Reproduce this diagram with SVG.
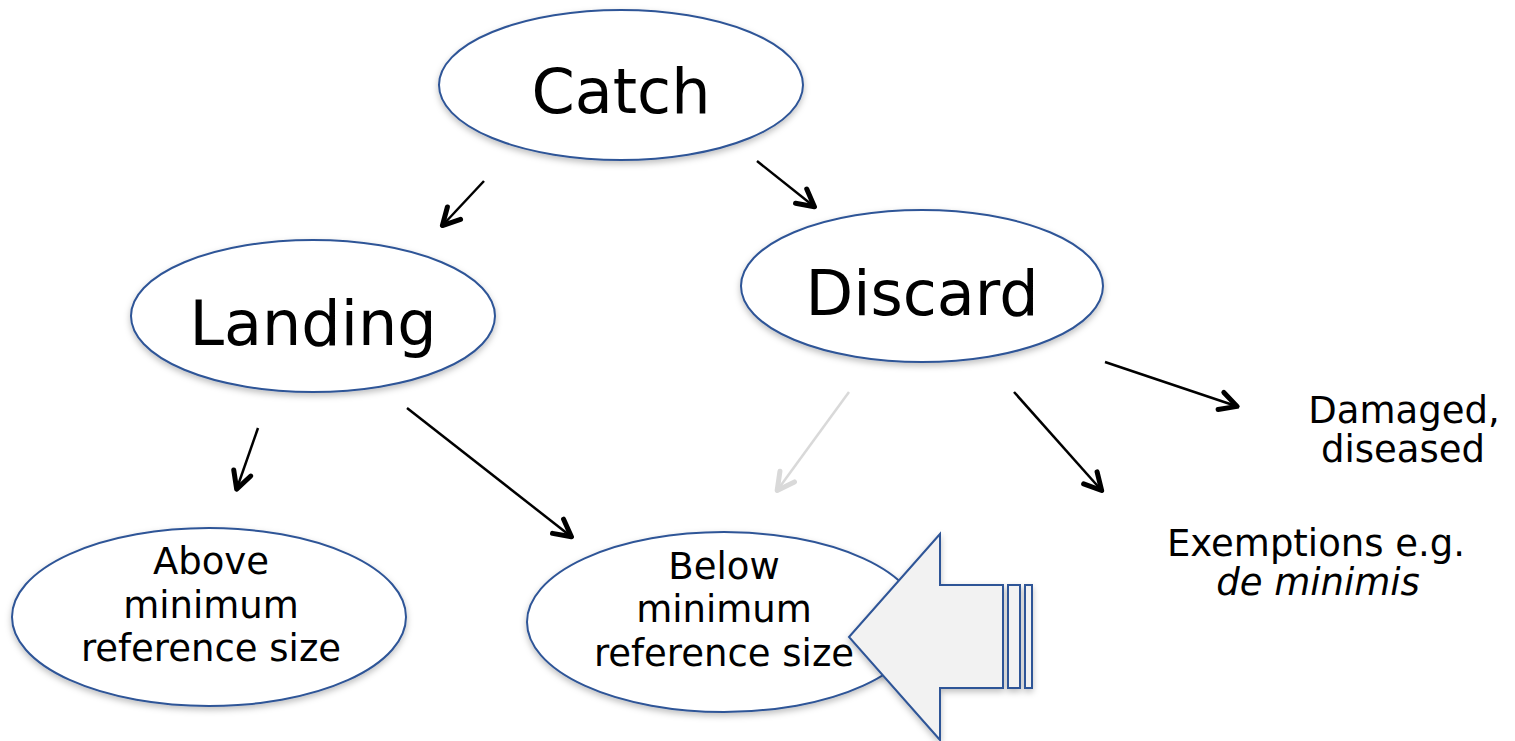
<svg xmlns="http://www.w3.org/2000/svg" width="1515" height="741" viewBox="0 0 1515 741">
<defs>
<style>
.node ellipse{fill:#ffffff;stroke:#2f5597;stroke-width:2;filter:url(#sh)}
.big{font-family:"DejaVu Sans","Liberation Sans",sans-serif;font-size:62px;fill:#000;text-anchor:middle}
.sm{font-family:"DejaVu Sans","Liberation Sans",sans-serif;font-size:37px;fill:#000;text-anchor:middle}
.conn line{stroke:#000;stroke-width:2.5;marker-end:url(#ah)}
.conn line.gray{stroke:#d9d9d9;marker-end:url(#ahg)}
</style>
<filter id="sh" x="-10%" y="-10%" width="120%" height="130%">
<feDropShadow dx="0" dy="3" stdDeviation="3" flood-color="#000" flood-opacity="0.25"/>
</filter>
<marker id="ah" markerUnits="userSpaceOnUse" viewBox="-26 -16 30 32" refX="0" refY="0" markerWidth="30" markerHeight="32" orient="auto">
<path d="M-19 -9 L-2 0 L-19 9" fill="none" stroke="#000" stroke-width="5" stroke-linecap="round" stroke-linejoin="round"/>
</marker>
<marker id="ahg" markerUnits="userSpaceOnUse" viewBox="-26 -16 30 32" refX="0" refY="0" markerWidth="30" markerHeight="32" orient="auto">
<path d="M-19 -9 L-2 0 L-19 9" fill="none" stroke="#d9d9d9" stroke-width="5" stroke-linecap="round" stroke-linejoin="round"/>
</marker>
</defs>
<rect width="1515" height="741" fill="#ffffff"/>

<g id="connectors" class="conn">
<line x1="484" y1="181" x2="441" y2="227"/>
<line x1="757" y1="161" x2="816" y2="208"/>
<line x1="258" y1="428" x2="236" y2="491"/>
<line x1="407" y1="408" x2="573" y2="538"/>
<line class="gray" x1="849" y1="392" x2="776" y2="492"/>
<line x1="1014" y1="392" x2="1103" y2="492"/>
<line x1="1105" y1="362" x2="1239" y2="407"/>
</g>

<g id="catch" class="node">
<ellipse cx="621" cy="85" rx="182" ry="75"/>
<text class="big" x="621" y="113">Catch</text>
</g>
<g id="landing" class="node">
<ellipse cx="313" cy="316" rx="182" ry="76"/>
<text class="big" x="313" y="345">Landing</text>
</g>
<g id="discard" class="node">
<ellipse cx="922" cy="286" rx="181" ry="76"/>
<text class="big" x="922" y="315">Discard</text>
</g>
<g id="above" class="node">
<ellipse cx="209" cy="617" rx="197" ry="89"/>
<text class="sm" x="211" y="574">Above</text>
<text class="sm" x="211" y="618">minimum</text>
<text class="sm" x="211" y="661">reference size</text>
</g>
<g id="below" class="node">
<ellipse cx="724" cy="622" rx="197" ry="90"/>
<text class="sm" x="724" y="579">Below</text>
<text class="sm" x="724" y="622">minimum</text>
<text class="sm" x="724" y="666">reference size</text>
</g>
<g id="damaged">
<text class="sm" x="1404" y="423">Damaged,</text>
<text class="sm" x="1403" y="462">diseased</text>
</g>
<g id="exemptions">
<text class="sm" x="1316" y="556">Exemptions e.g.</text>
<text class="sm" x="1318" y="595" font-style="italic">de minimis</text>
</g>
<g id="block-arrow" filter="url(#sh)">
<path d="M849 637 L940 534 L940 585 L1003 585 L1003 688 L940 688 L940 740 Z" fill="#f2f2f2" stroke="#2f5597" stroke-width="2" stroke-linejoin="miter"/>
<rect x="1008" y="585" width="12" height="103" fill="#f2f2f2" stroke="#2f5597" stroke-width="2"/>
<rect x="1025" y="585" width="7" height="103" fill="#f2f2f2" stroke="#2f5597" stroke-width="2"/>
</g>
</svg>
